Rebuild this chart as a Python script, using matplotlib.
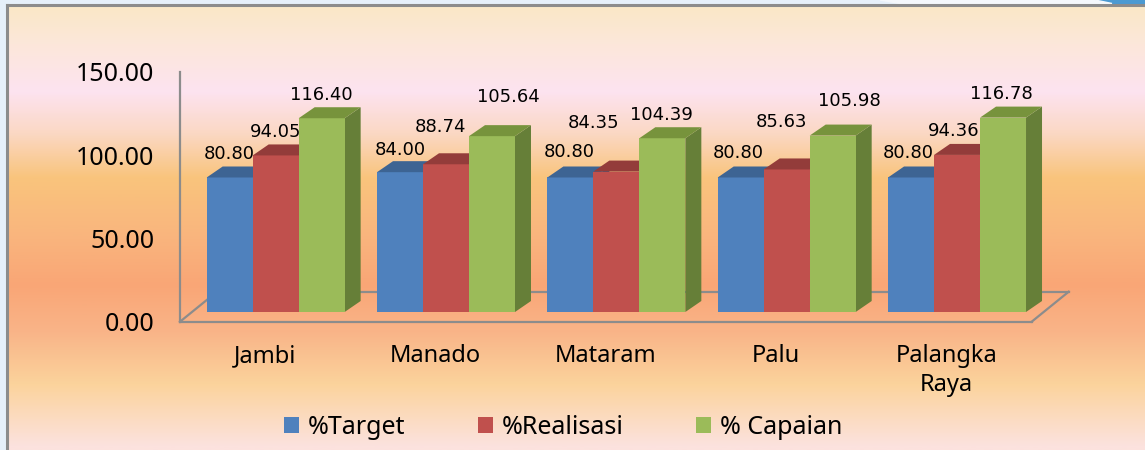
import numpy as np
import matplotlib
matplotlib.use('Agg')
import matplotlib.pyplot as plt
from matplotlib.patches import Polygon, Patch
from matplotlib.transforms import Affine2D
import matplotlib.colors as mcolors

# ---------------- data ----------------
categories = ['Jambi', 'Manado', 'Mataram', 'Palu', 'Palangka\nRaya']
series_names = ['%Target', '%Realisasi', '% Capaian']
target = [80.80, 84.00, 80.80, 80.80, 80.80]
realisasi = [94.05, 88.74, 84.35, 85.63, 94.36]
capaian = [116.40, 105.64, 104.39, 105.98, 116.78]
yticks = [0, 50, 100, 150]

# ---------------- style ----------------
plt.rcParams['font.family'] = ['Noto Sans', 'DejaVu Sans']
front_colors = ['#4F81BD', '#C0504D', '#9BBB59']
top_colors = ['#3D6493', '#933C3A', '#77933C']
side_colors = ['#3A5E8A', '#8A3836', '#667F38']
# label offsets (pixels) from the top-front centre of each bar, per series x category
lbl_dx = [[0, 0, -1, -2, -3],
          [0, -6, -23, -5, -3],
          [0, 16, -1, 17, -2]]
lbl_dy = [[23, 22, 25, 24, 24],
          [23, 37, 49, 47, 24],
          [23, 39, 23, 35, 24]]

W, H, DPI = 1145, 450, 100
fig = plt.figure(figsize=(W / DPI, H / DPI), dpi=DPI)

# ---------------- background ----------------
bg = fig.add_axes([0, 0, 1, 1], zorder=-10)
bg.set_xlim(0, W)
bg.set_ylim(H, 0)
bg.axis('off')
bg.add_patch(plt.Rectangle((0, 0), W, H, color='#E6F0FA', zorder=0))
stops_y = [5, 40, 88, 130, 175, 230, 283, 330, 383, 445]
stops_c = ['#FAE8C8', '#FCE7DA', '#FDE3F0', '#FBD8C4', '#F9C47C', '#F9B67E',
           '#F9A676', '#F9B488', '#FBD39C', '#FCE2DE']
rows = np.arange(H)
rgb = np.array([mcolors.to_rgb(c) for c in stops_c])
grad = np.stack([np.interp(rows, stops_y, rgb[:, k]) for k in range(3)], axis=-1)
bg.imshow(grad[:, None, :], extent=[7, W, H, 4.5], aspect='auto', zorder=1,
          interpolation='bilinear')
bg.plot([7, 7], [4.5, H], color='#8C8C8C', lw=2.2, zorder=2)
bg.plot([7, W], [4.5, 4.5], color='#8C8C8C', lw=2.2, zorder=2)
bg.add_patch(Polygon([[1095, 0], [W, 0], [W, 3.5], [1112, 3.5]], closed=True,
                     color='#4B9AD2', zorder=1.5))
bg.add_patch(Polygon([[880, 0], [1095, 0], [1112, 3.5], [900, 3.5]], closed=True,
                     color='#F4F8FC', zorder=1.5))

# ---------------- main axes ----------------
ax_left, ax_right = 180, 1031.7
ax_bottom, ax_top = 321.7, 72
ax = fig.add_axes([ax_left / W, (H - ax_bottom) / H, (ax_right - ax_left) / W,
                   (ax_bottom - ax_top) / H])
ax.set_xlim(-0.5, len(categories) - 0.5)
ax.set_ylim(0, 150)
ax.patch.set_alpha(0)
for s in ['top', 'right']:
    ax.spines[s].set_visible(False)
for s in ['left', 'bottom']:
    ax.spines[s].set_color('#8C8C8C')
    ax.spines[s].set_linewidth(1.6)
ax.spines['left'].set_zorder(0.5)
ax.spines['bottom'].set_zorder(0.5)

ax.set_yticks(yticks)
ax.set_yticklabels([f'{v:.2f}' for v in yticks], fontsize=18)
ax.set_xticks(range(len(categories)))
ax.set_xticklabels(categories, fontsize=17, linespacing=1.3, va='top')
ax.tick_params(axis='y', length=0, pad=18.5)
ax.tick_params(axis='x', length=0, pad=16)


def px_to_data(dx_px, dy_px):
    inv = ax.transData.inverted()
    x0, y0 = inv.transform((0, 0))
    x1, y1 = inv.transform((dx_px, dy_px))
    return x1 - x0, y1 - y0


# floor outline (depth of the 3D floor)
fdx, fdy = px_to_data(37, 30)
xmin, xmax = ax.get_xlim()
floor_kw = dict(color='#8C8C8C', lw=1.6, clip_on=False, zorder=0.6)
ax.plot([xmax, xmax + fdx], [0, fdy], **floor_kw)
ax.plot([xmin + fdx, xmax + fdx], [fdy, fdy], **floor_kw)
ax.plot([xmin, xmin + fdx], [0, fdy], **floor_kw)

# bars (front plane shifted into the middle of the floor depth)
bar_tr = ax.transData + Affine2D().translate(10.5, 9.7)
ddx, ddy = px_to_data(16, 11)
bw = 0.27
series = [target, realisasi, capaian]
offsets = [-bw, 0, bw]
x = np.arange(len(categories))
z = 2.0
for i in range(len(categories)):
    for k, vals in enumerate(series):
        v = vals[i]
        xc = x[i] + offsets[k]
        xl, xr = xc - bw / 2, xc + bw / 2
        side = Polygon([[xr, 0], [xr + ddx, ddy], [xr + ddx, v + ddy], [xr, v]],
                       closed=True, fc=side_colors[k], ec='none', transform=bar_tr,
                       zorder=z, clip_on=False)
        ax.add_patch(side)
        ax.bar([xc], [v], width=bw, color=front_colors[k], transform=bar_tr,
               zorder=z + 0.001, clip_on=False, edgecolor='none')
        top = Polygon([[xl, v], [xr, v], [xr + ddx, v + ddy], [xl + ddx, v + ddy]],
                      closed=True, fc=top_colors[k], ec='none', transform=bar_tr,
                      zorder=z + 0.002, clip_on=False)
        ax.add_patch(top)
        ax.annotate(f'{v:.2f}', xy=(xc, v), xycoords=bar_tr,
                    xytext=(lbl_dx[k][i], lbl_dy[k][i]), textcoords='offset pixels',
                    ha='center', va='center', fontsize=13, family='DejaVu Sans',
                    color='black', zorder=10, annotation_clip=False)
        z += 0.01

# legend
handles = [Patch(facecolor=c, edgecolor='none') for c in front_colors]
fig.legend(handles, series_names, loc='center', bbox_to_anchor=(563 / W, (H - 427) / H),
           ncol=3, frameon=False, fontsize=18, handlelength=0.6, handleheight=0.6,
           handletextpad=0.35, columnspacing=2.9, borderpad=0)

fig.savefig('out.png', dpi=DPI)
